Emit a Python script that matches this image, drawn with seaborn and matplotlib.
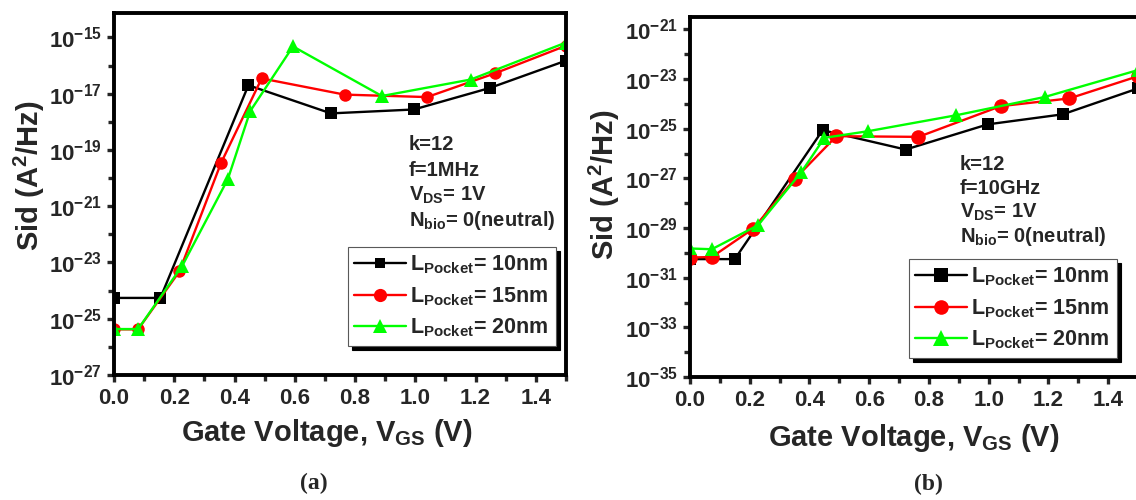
import numpy as np
import pandas as pd
import matplotlib
matplotlib.use("Agg")
import matplotlib.pyplot as plt
import seaborn as sns
from matplotlib.ticker import FixedLocator, FixedFormatter, MultipleLocator, FormatStrFormatter
from matplotlib.lines import Line2D

# ---------------- data ----------------
labels = [r"L$_{\mathbf{Pocket}}$= 10nm", r"L$_{\mathbf{Pocket}}$= 15nm", r"L$_{\mathbf{Pocket}}$= 20nm"]
colors = ["#000000", "#FF0000", "#00FF00"]
marker_shapes = ["s", "o", "^"]

# panel (a): f = 1 MHz
a_v10 = [0.0, 0.154, 0.446, 0.72, 0.995, 1.247, 1.5]
a_s10 = [5.5e-25, 5.5e-25, 2.0e-17, 2.0e-18, 2.75e-18, 1.6e-17, 1.5e-16]
a_v15 = [0.0, 0.08, 0.217, 0.355, 0.49, 0.765, 1.039, 1.266, 1.5]
a_s15 = [4.2e-26, 4.2e-26, 4.8e-24, 3.4e-20, 3.5e-17, 9.3e-18, 7.6e-18, 5.4e-17, 5.1e-16]
a_v20 = [0.0, 0.08, 0.227, 0.378, 0.452, 0.594, 0.889, 1.184, 1.5]
a_s20 = [4.3e-26, 4.3e-26, 7.8e-24, 9.3e-21, 2.4e-18, 4.8e-16, 8.3e-18, 3.2e-17, 6.6e-16]

# panel (b): f = 10 GHz
b_v10 = [0.0, 0.15, 0.444, 0.722, 0.997, 1.248, 1.5]
b_s10 = [5.6e-31, 5.6e-31, 8.7e-26, 1.45e-26, 1.5e-25, 3.8e-25, 4.2e-24]
b_v15 = [0.0, 0.073, 0.212, 0.352, 0.49, 0.765, 1.04, 1.27, 1.5]
b_s15 = [6.5e-31, 6.8e-31, 9.5e-30, 9.8e-28, 5.0e-26, 4.7e-26, 8.1e-25, 1.66e-24, 1.3e-23]
b_v20 = [0.0, 0.073, 0.228, 0.373, 0.45, 0.595, 0.892, 1.188, 1.5]
b_s20 = [1.5e-30, 1.4e-30, 1.3e-29, 1.8e-27, 4.3e-26, 7.9e-26, 3.5e-25, 1.9e-24, 2.3e-23]

a_ticks_exp = [-27, -25, -23, -21, -19, -17, -15]
b_ticks_exp = [-35, -33, -31, -29, -27, -25, -23, -21]
x_ticks = [0.0, 0.2, 0.4, 0.6, 0.8, 1.0, 1.2, 1.4]

notes_a = ["k=12", "f=1MHz", r"V$_{\mathbf{DS}}$= 1V", r"N$_{\mathbf{bio}}$= 0(neutral)"]
notes_b = ["k=12", "f=10GHz", r"V$_{\mathbf{DS}}$= 1V", r"N$_{\mathbf{bio}}$= 0(neutral)"]

# ---------------- style ----------------
sns.set_theme(style="ticks")
plt.rcParams.update({
    "font.family": ["Liberation Sans", "DejaVu Sans"],
    "font.weight": "bold",
    "axes.labelweight": "bold",
    "mathtext.fontset": "custom",
    "mathtext.rm": "Liberation Sans:bold",
    "mathtext.it": "Liberation Sans:bold",
    "mathtext.bf": "Liberation Sans:bold",
    "mathtext.sf": "Liberation Sans:bold",
    "mathtext.default": "bf",
    "axes.linewidth": 2.8,
    "axes.edgecolor": "black",
})

W, H = 1136, 500
fig = plt.figure(figsize=(W / 100, H / 100), dpi=100)


def px_axes(l, t, r, b):
    return fig.add_axes([l / W, 1 - b / H, (r - l) / W, (b - t) / H])


def make_df(vs, ss):
    rows = []
    for lab, v, s in zip(labels, vs, ss):
        for xx, yy in zip(v, s):
            rows.append({"vgs": xx, "sid": yy, "series": lab})
    return pd.DataFrame(rows)


def draw_panel(ax, df, ylo, yhi, tick_exps, msizes):
    ax.set_yscale("log")
    sns.lineplot(data=df, x="vgs", y="sid", hue="series", style="series",
                 hue_order=labels, style_order=labels,
                 palette=dict(zip(labels, colors)),
                 markers=dict(zip(labels, marker_shapes)), dashes=False,
                 sort=False, estimator=None, linewidth=1.7,
                 markeredgewidth=0, legend=False, ax=ax)
    for ln in ax.lines:
        m = ln.get_marker()
        ln.set_markersize(msizes.get(m, 8))
    ax.set_xlim(0, 1.5)
    ax.set_ylim(ylo, yhi)
    ax.xaxis.set_major_locator(FixedLocator(x_ticks))
    ax.xaxis.set_major_formatter(FormatStrFormatter("%.1f"))
    ax.xaxis.set_minor_locator(MultipleLocator(0.1))
    ax.yaxis.set_major_locator(FixedLocator([10.0 ** e for e in tick_exps]))
    ax.yaxis.set_major_formatter(FixedFormatter([r"$10^{%d}$" % e for e in tick_exps]))
    minors = [10.0 ** (e + 1) for e in tick_exps]
    ax.yaxis.set_minor_locator(FixedLocator(minors))
    ax.yaxis.set_minor_formatter(FixedFormatter([""] * len(minors)))
    ax.tick_params(which="major", direction="out", length=5, width=2.4, labelsize=16, pad=4)
    ax.tick_params(which="minor", direction="out", length=4, width=2.4)
    for sp in ax.spines.values():
        sp.set_linewidth(2.8)
        sp.set_visible(True)
    ax.set_ylabel(r"Sid (A$^{\mathbf{2}}$/Hz)", fontsize=21, fontweight="bold")
    ax.set_xlabel(r"Gate Voltage, V$_{\mathbf{GS}}$ (V)", fontsize=21, fontweight="bold")


def add_legend(ax, x0, y0, msizes):
    handles = [Line2D([], [], color=c, marker=m, lw=1.7, markeredgewidth=0,
                      markersize=msizes[m]) for c, m in zip(colors, marker_shapes)]
    leg = ax.legend(handles, labels, loc="upper left", bbox_to_anchor=(x0 / W, 1 - y0 / H),
                    bbox_transform=fig.transFigure, frameon=True, fancybox=False,
                    shadow={"ox": 3, "oy": -3, "color": "black", "alpha": 1},
                    edgecolor="0.35", framealpha=1, fontsize=15.5, handlelength=2.4,
                    handletextpad=0.2, labelspacing=0.42, borderpad=0.3, borderaxespad=0)
    leg.get_frame().set_linewidth(0.8)
    return leg


# panel (a)
ax1 = px_axes(114, 13, 566, 375)
ms_a = {"s": 8, "o": 9, "^": 9.5}
draw_panel(ax1, make_df([a_v10, a_v15, a_v20], [a_s10, a_s15, a_s20]),
           1e-27, 10 ** -14.13, a_ticks_exp, ms_a)
ax1.yaxis.set_label_coords(-0.148, 0.55)
ax1.xaxis.set_label_coords(0.47, -0.115)
add_legend(ax1, 348, 247, {"s": 7, "o": 9.5, "^": 10})

# panel (b)
ax2 = px_axes(690, 17, 1138, 377)
ms_b = {"s": 9, "o": 10.5, "^": 10.5}
draw_panel(ax2, make_df([b_v10, b_v15, b_v20], [b_s10, b_s15, b_s20]),
           1e-35, 10 ** -20.5, b_ticks_exp, ms_b)
ax2.yaxis.set_label_coords(-0.152, 0.535)
ax2.xaxis.set_label_coords(0.5, -0.125)
add_legend(ax2, 909, 259, {"s": 9.5, "o": 10.5, "^": 11})

# annotations
for i, t in enumerate(notes_a):
    fig.text(409 / W, 1 - (145 + 25 * i) / H, t, ha="left", va="center", fontsize=14.5, fontweight="bold")
for i, t in enumerate(notes_b):
    fig.text(960 / W, 1 - (164 + 24 * i) / H, t, ha="left", va="center", fontsize=14.5, fontweight="bold")

fig.text(314 / W, 1 - 483 / H, "(a)", ha="center", va="center", fontsize=17,
         fontweight="bold", family="Liberation Serif")
fig.text(928 / W, 1 - 484 / H, "(b)", ha="center", va="center", fontsize=17,
         fontweight="bold", family="Liberation Serif")

fig.savefig("out.png", dpi=100)
